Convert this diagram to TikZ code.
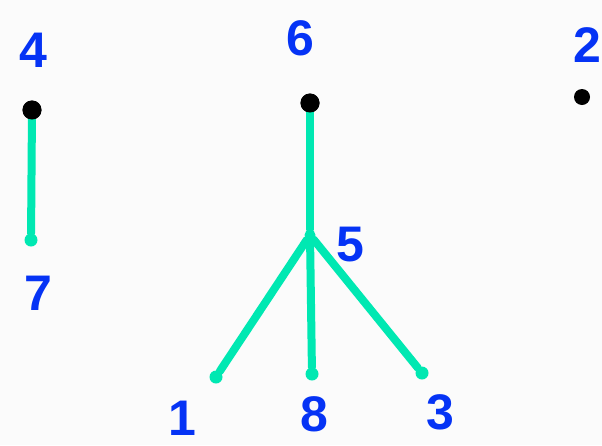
\documentclass[tikz,border=0pt]{standalone}
\usepackage{fontspec}
\setmainfont{Liberation Sans}
\usepackage{tikz}
\usetikzlibrary{calc,positioning}
\usepackage{xcolor}
\definecolor{edgeteal}{HTML}{00E8B2}
\definecolor{labelblue}{HTML}{0533F5}
\definecolor{paper}{HTML}{FBFBFB}

\tikzset{
    root/.style={circle, fill=black, inner sep=0pt, minimum size=19pt},
    leaf/.style={circle, fill=edgeteal, inner sep=0pt, minimum size=13pt},
    joint/.style={circle, fill=edgeteal, inner sep=0pt, minimum size=11pt},
    edge/.style={edgeteal, line width=8pt, line cap=round},
    num/.style={labelblue, font=\fontsize{50}{50}\selectfont\bfseries}
}

\begin{document}
\begin{tikzpicture}[x=1pt, y=-1pt]
    \fill[paper] (0,0) rectangle (602,445);
    \useasboundingbox (0,0) rectangle (602,445);

    % ---- Vertices ----
    \node[root]  (v4) at (32,110) {};
    \node[leaf]  (v7) at (31,240) {};
    \node[root]  (v6) at (310,103) {};
    \node[joint] (v5) at (310,235) {};
    \node[leaf]  (v1) at (216,377) {};
    \node[leaf]  (v8) at (312,374) {};
    \node[leaf]  (v3) at (422,373) {};
    \node[root, minimum size=16pt] (v2) at (582,97) {};

    % ---- Edges ----
    \draw[edge] (v4) -- (v7);
    \draw[edge] (v6) -- (v5);
    \foreach \c in {1,8,3} {
        \draw[edge] (v5) -- (v\c);
    }
    % redraw roots over edge ends
    \node[root] at (v4) {};
    \node[root] at (v6) {};

    % ---- Labels ----
    \node[num] (l4) at (33,50)  {4};
    \node[num] (l7) at (38,293) {7};
    \node[num] (l6) at (300,38) {6};
    \node[num] (l5) at (350,245) {5};
    \node[num] (l1) at (182,418) {1};
    \node[num] (l8) at (314,414) {8};
    \node[num] (l3) at (440,412) {3};
    \node[num] (l2) at (587,45) {2};
\end{tikzpicture}
\end{document}
